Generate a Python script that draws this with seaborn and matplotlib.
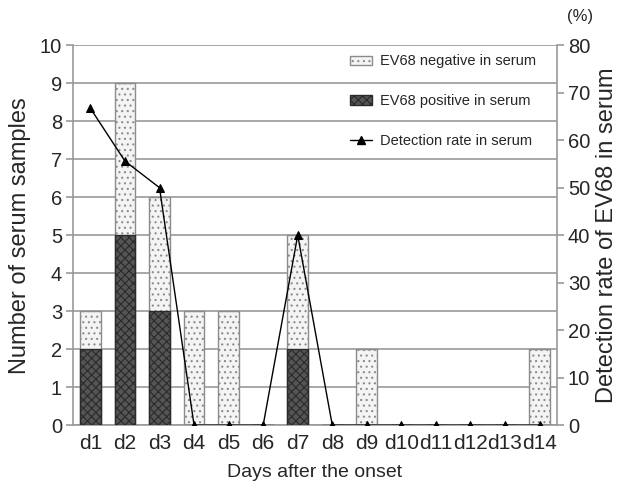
import matplotlib
matplotlib.use("Agg")
import matplotlib.pyplot as plt
import seaborn as sns
import pandas as pd
from matplotlib.patches import Patch
from matplotlib.lines import Line2D

days = ["d1", "d2", "d3", "d4", "d5", "d6", "d7", "d8", "d9", "d10", "d11", "d12", "d13", "d14"]
positive = [2, 5, 3, 0, 0, 0, 2, 0, 0, 0, 0, 0, 0, 0]
negative = [1, 4, 3, 3, 3, 0, 3, 0, 2, 0, 0, 0, 0, 2]
detection_rate = [66.7, 55.6, 50.0, 0, 0, 0, 40.0, 0, 0, 0, 0, 0, 0, 0]

df = pd.DataFrame({"day": days, "positive": positive, "negative": negative,
                   "rate": detection_rate})
df["total"] = df["positive"] + df["negative"]

sns.set_style("white")
plt.rcParams["font.family"] = ["Liberation Sans", "DejaVu Sans"]
plt.rcParams["hatch.linewidth"] = 0.8

grid_c = "#9a9a9a"
fig = plt.figure(figsize=(6.25, 4.91), dpi=100)
ax = fig.add_axes([0.117, 0.134, 0.774, 0.774])

for y in range(0, 11):
    ax.axhline(y, color=grid_c, lw=1.2, zorder=0)

sns.barplot(data=df, x="day", y="total", color="#f4f4f4", width=0.6,
            edgecolor="#8c8c8c", linewidth=1.0, hatch="...", ax=ax, zorder=2)
sns.barplot(data=df, x="day", y="positive", color="#555555", width=0.6,
            edgecolor="#2a2a2a", linewidth=1.0, hatch="xxxx", ax=ax, zorder=3)

ax.set_ylim(0, 10)
ax.set_xlim(-0.5, len(days) - 0.5)
ax.set_yticks(range(0, 11))
ax.set_xlabel("Days after the onset", fontsize=14, labelpad=8)
ax.set_ylabel("Number of serum samples", fontsize=17, labelpad=6)
ax.set_xticks([i + 0.5 for i in range(-1, len(days))], minor=True)
ax.tick_params(axis="x", which="major", length=0, labelsize=15, pad=6)
ax.tick_params(axis="x", which="minor", length=5, color=grid_c, width=1.2)
ax.tick_params(axis="y", labelsize=14.5, length=5, color=grid_c, width=1.2, pad=3)
for s in ["top", "right"]:
    ax.spines[s].set_visible(False)
for s in ["left", "bottom"]:
    ax.spines[s].set_color(grid_c)
    ax.spines[s].set_linewidth(1.2)

ax2 = ax.twinx()
sns.lineplot(x=list(range(len(days))), y=df["rate"], ax=ax2, color="black",
             lw=1.0, marker="^", markersize=6, markeredgecolor="black", zorder=5)
ax2.set_ylim(0, 80)
ax2.set_yticks(range(0, 81, 10))
ax2.set_ylabel("Detection rate of EV68 in serum", fontsize=17, labelpad=4)
ax2.tick_params(axis="y", labelsize=14.5, length=5, color=grid_c, width=1.2, pad=3)
for s in ["top", "left", "bottom"]:
    ax2.spines[s].set_visible(False)
ax2.spines["right"].set_color(grid_c)
ax2.spines["right"].set_linewidth(1.2)
ax2.text(1.02, 1.055, "(%)", transform=ax2.transAxes, fontsize=12, ha="left", va="bottom")

handles = [
    Patch(facecolor="#f4f4f4", edgecolor="#8c8c8c", hatch="...", label="EV68 negative in serum"),
    Patch(facecolor="#555555", edgecolor="#2a2a2a", hatch="xxxx", label="EV68 positive in serum"),
    Line2D([0], [0], color="black", lw=1.0, marker="^", markersize=6, label="Detection rate in serum"),
]
ax2.legend(handles=handles, loc="upper right", bbox_to_anchor=(0.985, 1.01), frameon=False,
           fontsize=10.5, labelspacing=1.75, handlelength=1.5, handleheight=0.6,
           handletextpad=0.6)

fig.savefig("out.png", dpi=100)
